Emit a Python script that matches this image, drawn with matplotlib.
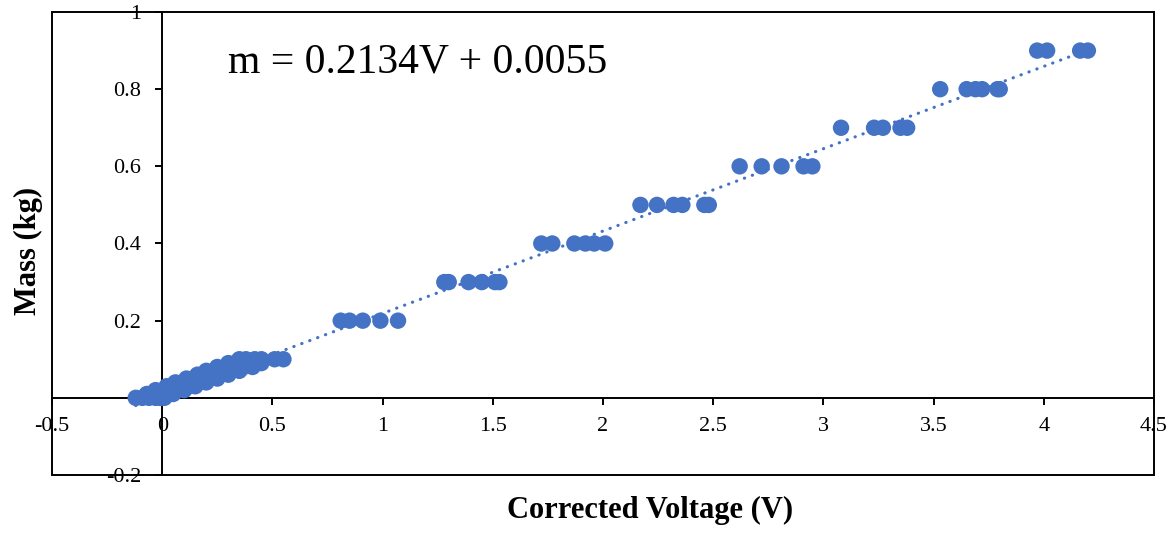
import matplotlib
matplotlib.use('Agg')
import matplotlib.pyplot as plt
from matplotlib.patches import Rectangle
import numpy as np

# measured points (corrected voltage V, mass kg)
voltage_low = [-0.12, -0.09, -0.06, -0.03, -0.01, 0.01,
               -0.07, -0.03, 0.0, 0.03, 0.05,
               -0.03, 0.01, 0.04, 0.07, 0.10,
               0.02, 0.05, 0.09, 0.12, 0.15,
               0.06, 0.09, 0.13, 0.17, 0.20,
               0.11, 0.14, 0.18, 0.21, 0.25,
               0.16, 0.19, 0.23, 0.26, 0.30,
               0.20, 0.24, 0.27, 0.31, 0.35,
               0.25, 0.29, 0.33, 0.37, 0.41,
               0.30, 0.33, 0.37, 0.41, 0.45,
               0.35, 0.38, 0.42, 0.45, 0.51, 0.55]
mass_low = [0.0] * 6 + [0.01] * 5 + [0.02] * 5 + [0.03] * 5 + [0.04] * 5 + \
           [0.05] * 5 + [0.06] * 5 + [0.07] * 5 + [0.08] * 5 + [0.09] * 5 + [0.1] * 6

voltage_high = [0.81, 0.85, 0.91, 0.99, 1.07,
                1.28, 1.30, 1.39, 1.45, 1.51, 1.53,
                1.72, 1.77, 1.87, 1.92, 1.96, 2.01,
                2.17, 2.245, 2.32, 2.36, 2.46, 2.48,
                2.62, 2.72, 2.81, 2.91, 2.95,
                3.08, 3.23, 3.27, 3.35, 3.38,
                3.53, 3.65, 3.69, 3.72, 3.79, 3.80,
                3.97, 4.015, 4.165, 4.20]
mass_high = [0.2] * 5 + [0.3] * 6 + [0.4] * 6 + [0.5] * 6 + [0.6] * 5 + \
            [0.7] * 5 + [0.8] * 6 + [0.9] * 4

voltage = voltage_low + voltage_high
mass = mass_low + mass_high

slope, intercept = 0.2134, 0.0055

blue = '#4472C4'
plt.rcParams['font.family'] = ['Liberation Serif', 'DejaVu Serif']

fig = plt.figure(figsize=(11.76, 5.33), dpi=100)
ax = fig.add_axes([52 / 1176, 58 / 533, 1102 / 1176, 463 / 533])

ax.scatter(voltage, mass, s=140, color=blue, edgecolors='none', zorder=3)

# linear trendline over the data range
xs = np.array([min(voltage), max(voltage)])
ax.plot(xs, slope * xs + intercept, color=blue, lw=2.25,
        linestyle=(0, (0.1, 2.6)), dash_capstyle='round', zorder=2)

ax.set_xlim(-0.5, 4.5)
ax.set_ylim(-0.2, 1.0)
ax.set_xticks(np.arange(-0.5, 4.51, 0.5))
ax.set_xticklabels(['-0.5', '0', '0.5', '1', '1.5', '2', '2.5', '3', '3.5', '4', '4.5'])
ax.set_yticks([-0.2, 0, 0.2, 0.4, 0.6, 0.8, 1.0])
ax.set_yticklabels(['-0.2', '0', '0.2', '0.4', '0.6', '0.8', '1'])

# axes cross at the origin, with a frame round the plot area
ax.spines['left'].set_position(('data', 0))
ax.spines['bottom'].set_position(('data', 0))
ax.spines['top'].set_visible(False)
ax.spines['right'].set_visible(False)
for s in ('left', 'bottom'):
    ax.spines[s].set_linewidth(1.4)
ax.add_patch(Rectangle((0, 0), 1, 1, transform=ax.transAxes, fill=False,
                       lw=1.4, edgecolor='black', clip_on=False, zorder=4))

ax.tick_params(axis='x', direction='out', length=5, width=1.4, labelsize=16, pad=9)
ax.tick_params(axis='y', direction='out', length=5, width=1.4, labelsize=16, pad=10)

ax.text(0.30, 0.87, 'm = 0.2134V + 0.0055', fontsize=30, va='center', ha='left')

fig.text(650 / 1176, 1 - 510 / 533, 'Corrected Voltage (V)', fontsize=22,
         fontweight='bold', ha='center', va='center')
fig.text(28 / 1176, 1 - 251 / 533, 'Mass (kg)', fontsize=22, fontweight='bold',
         rotation=90, ha='center', va='center')

fig.savefig('out.png', dpi=100)
